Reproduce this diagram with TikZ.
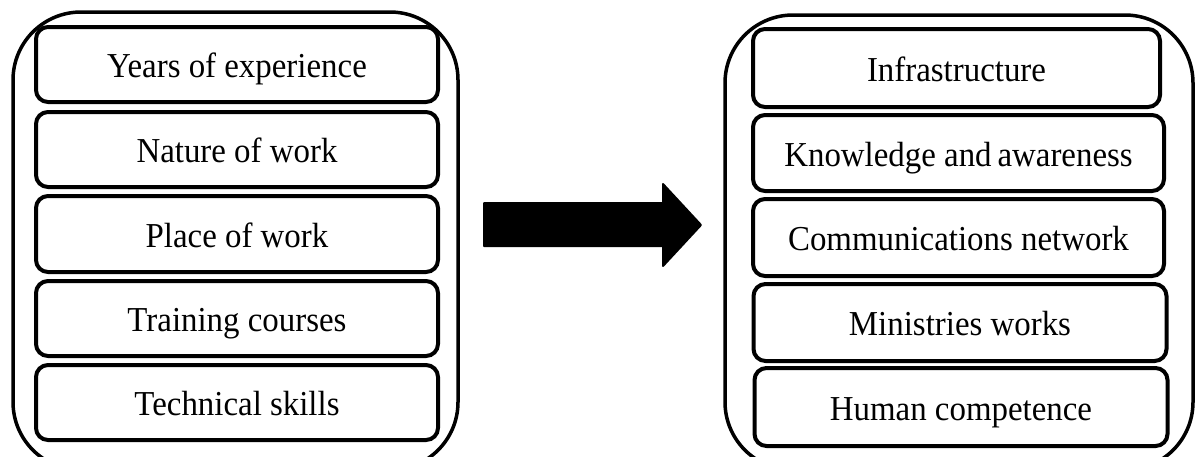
\documentclass[tikz,border=0pt]{standalone}
\usepackage{fontspec}
\setmainfont{Liberation Serif}
\newfontfamily\boxfont[FakeStretch=0.94]{Liberation Serif}
\begin{document}
\begin{tikzpicture}[x=1pt,y=-1pt,
  outerbox/.style={draw=black, line width=3.5pt, rounded corners=68pt, inner sep=0pt},
  itembox/.style={draw=black, line width=4pt, rounded corners=12pt, inner sep=0pt,
    text height=33pt, text depth=7pt,
    font=\boxfont\fontsize{35}{42}\selectfont},
  bigarrow/.style={fill=black, draw=black, line width=2pt, line join=round}]
\useasboundingbox (0,0) rectangle (1196,456);
\begin{scope}
\clip (0,0) rectangle (1196,456);
% outer frames (their lower edges run past the page)
\node[outerbox, minimum width=445pt, minimum height=458pt] (leftframe) at (235.5,241) {};
\node[outerbox, minimum width=468pt, minimum height=455pt] (rightframe) at (959,242.5) {};
\end{scope}
% left column
\node[itembox, minimum width=402pt, minimum height=75pt] (l1) at (237,64.5) {Years of experience};
\node[itembox, minimum width=402pt, minimum height=75pt] (l2) at (237,149.5) {Nature of work};
\node[itembox, minimum width=402pt, minimum height=76pt] (l3) at (237,234) {Place of work};
\node[itembox, minimum width=402pt, minimum height=75pt] (l4) at (237,318.5) {Training courses};
\node[itembox, minimum width=402pt, minimum height=75pt] (l5) at (237,402.5) {Technical skills};
% right column
\node[itembox, minimum width=407pt, minimum height=78pt] (r1) at (956.5,68) {Infrastructure};
\node[itembox, minimum width=411pt, minimum height=76pt] (r2) at (958.5,153) {Knowledge and\,awareness};
\node[itembox, minimum width=411pt, minimum height=77pt] (r3) at (958.5,237.5) {Communications network};
\node[itembox, minimum width=413pt, minimum height=77pt] (r4) at (960,322.5) {Ministries works};
\node[itembox, minimum width=413pt, minimum height=78pt] (r5) at (961,407) {Human competence};
% block arrow between the two frames
\coordinate (shaftstart) at (484,225);
\coordinate (tip) at (701,225);
\path[bigarrow] (shaftstart |- 0,203) -- (663,203) -- (663,184) -- (tip)
  -- (663,266) -- (663,246) -- (shaftstart |- 0,246) -- cycle;
\end{tikzpicture}
\end{document}
